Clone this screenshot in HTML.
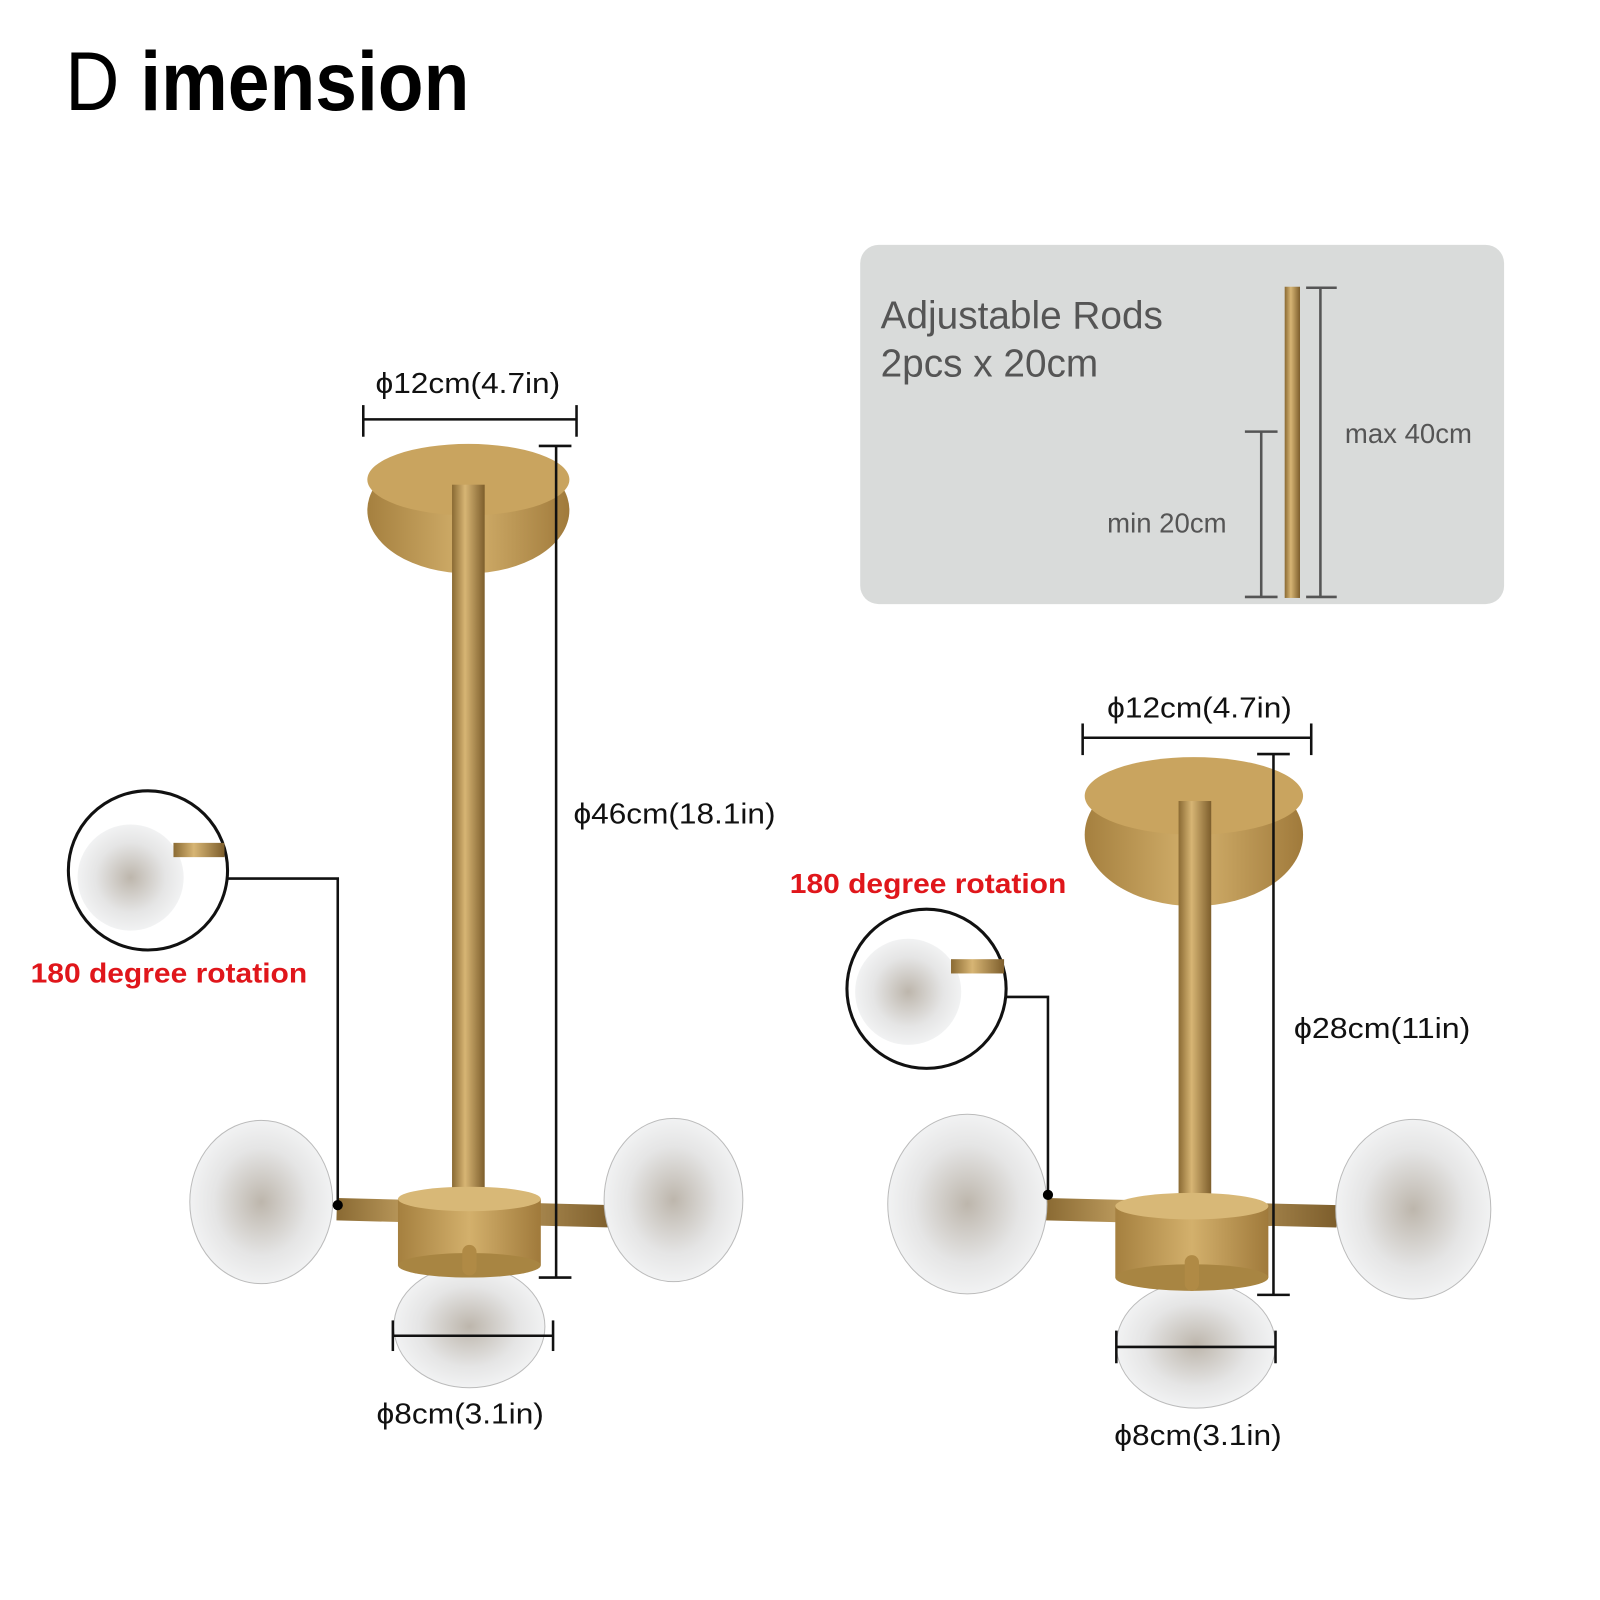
<!DOCTYPE html>
<html><head><meta charset="utf-8"><style>
html,body{margin:0;padding:0;background:#fff}
svg{display:block}
text{font-family:"Liberation Sans",sans-serif}
.lbl{font-family:"Liberation Sans",sans-serif;font-size:28px;fill:#111}
.red{font-family:"Liberation Sans",sans-serif;font-size:27px;fill:#e0161b;font-weight:bold}
</style></head><body>
<svg width="1600" height="1600" viewBox="0 0 1568 1568" xmlns="http://www.w3.org/2000/svg">
<defs>
<linearGradient id="rod" x1="0" x2="1"><stop offset="0" stop-color="#8a6a33"/><stop offset=".4" stop-color="#d7b574"/><stop offset="1" stop-color="#7d5e2c"/></linearGradient>
<linearGradient id="cap" x1="0" x2="1"><stop offset="0" stop-color="#a5803f"/><stop offset=".5" stop-color="#d3b06c"/><stop offset="1" stop-color="#a07a3b"/></linearGradient>
<radialGradient id="glass" cx=".5" cy=".5" r=".55"><stop offset="0" stop-color="#bdb6ac"/><stop offset=".6" stop-color="#e5e5e5"/><stop offset="1" stop-color="#f5f6f7"/></radialGradient>
</defs>
<rect width="1568" height="1568" fill="#fff"/>
<text x="64" y="108" font-size="82" fill="#000" textLength="396" lengthAdjust="spacingAndGlyphs">D <tspan font-weight="bold">imension</tspan></text>

<rect x="843" y="240" width="631" height="352" rx="18" fill="#d9dbda"/>
<text x="863" y="322" font-size="38" fill="#555">Adjustable Rods</text>
<text x="863" y="369" font-size="38" fill="#555">2pcs x 20cm</text>
<text x="1318" y="434" font-size="27" fill="#555">max 40cm</text>
<text x="1085" y="522" font-size="27" fill="#555">min 20cm</text>
<rect x="1259" y="281" width="15" height="305" fill="url(#rod)"/>
<g stroke="#555" stroke-width="2.5" fill="none">
<line x1="1294" y1="282" x2="1294" y2="585"/><line x1="1280" y1="282" x2="1310" y2="282"/><line x1="1280" y1="585" x2="1310" y2="585"/>
<line x1="1236" y1="423" x2="1236" y2="585"/><line x1="1220" y1="423" x2="1252" y2="423"/><line x1="1220" y1="585" x2="1252" y2="585"/>
</g>

<ellipse cx="459" cy="500" rx="99" ry="62" fill="url(#cap)"/>
<ellipse cx="459" cy="470" rx="99" ry="35" fill="#c9a45f"/>
<rect x="443" y="475" width="32" height="700" fill="url(#rod)"/>
<line x1="330" y1="1185" x2="600" y2="1192" stroke="url(#rod)" stroke-width="22"/>
<ellipse cx="256" cy="1178" rx="70" ry="80" fill="url(#glass)" stroke="#bbb"/>
<ellipse cx="660" cy="1176" rx="68" ry="80" fill="url(#glass)" stroke="#bbb"/>
<ellipse cx="460" cy="1300" rx="74" ry="60" fill="url(#glass)" stroke="#bbb"/>
<rect x="390" y="1175" width="140" height="65" fill="url(#cap)"/>
<ellipse cx="460" cy="1240" rx="70" ry="12" fill="#a88542"/>
<ellipse cx="460" cy="1175" rx="70" ry="12" fill="#d8b877"/>
<rect x="453" y="1220" width="14" height="30" rx="7" fill="#b08a45"/>
<g stroke="#111" stroke-width="2.5" fill="none">
<line x1="356" y1="411" x2="565" y2="411"/><line x1="356" y1="397" x2="356" y2="428"/><line x1="565" y1="397" x2="565" y2="428"/>
<line x1="545" y1="437" x2="545" y2="1252"/><line x1="528" y1="437" x2="560" y2="437"/><line x1="528" y1="1252" x2="560" y2="1252"/>
<line x1="385" y1="1309" x2="542" y2="1309"/><line x1="385" y1="1294" x2="385" y2="1324"/><line x1="542" y1="1294" x2="542" y2="1324"/>
<polyline points="222,861 331,861 331,1180"/>
<circle cx="145" cy="853" r="78" stroke-width="3"/>
</g>
<circle cx="331" cy="1181" r="5" fill="#000"/>
<circle cx="128" cy="860" r="52" fill="url(#glass)"/><rect x="170" y="826" width="50" height="14" fill="url(#rod)"/>
<text x="368" y="385" class="lbl" textLength="181" lengthAdjust="spacingAndGlyphs">ϕ12cm(4.7in)</text>
<text x="562" y="807" class="lbl" textLength="198" lengthAdjust="spacingAndGlyphs">ϕ46cm(18.1in)</text>
<text x="369" y="1395" class="lbl" textLength="164" lengthAdjust="spacingAndGlyphs">ϕ8cm(3.1in)</text>
<text x="30" y="963" class="red" textLength="271" lengthAdjust="spacingAndGlyphs">180 degree rotation</text>

<ellipse cx="1170" cy="818" rx="107" ry="70" fill="url(#cap)"/>
<ellipse cx="1170" cy="780" rx="107" ry="38" fill="#c9a45f"/>
<rect x="1155" y="785" width="32" height="400" fill="url(#rod)"/>
<line x1="1025" y1="1185" x2="1310" y2="1192" stroke="url(#rod)" stroke-width="22"/>
<ellipse cx="948" cy="1180" rx="78" ry="88" fill="url(#glass)" stroke="#bbb"/>
<ellipse cx="1385" cy="1185" rx="76" ry="88" fill="url(#glass)" stroke="#bbb"/>
<ellipse cx="1172" cy="1318" rx="78" ry="62" fill="url(#glass)" stroke="#bbb"/>
<rect x="1093" y="1182" width="150" height="70" fill="url(#cap)"/>
<ellipse cx="1168" cy="1252" rx="75" ry="13" fill="#a88542"/>
<ellipse cx="1168" cy="1182" rx="75" ry="13" fill="#d8b877"/>
<rect x="1161" y="1230" width="14" height="35" rx="7" fill="#b08a45"/>
<g stroke="#111" stroke-width="2.5" fill="none">
<line x1="1061" y1="723" x2="1285" y2="723"/><line x1="1061" y1="709" x2="1061" y2="740"/><line x1="1285" y1="709" x2="1285" y2="740"/>
<line x1="1248" y1="739" x2="1248" y2="1269"/><line x1="1232" y1="739" x2="1264" y2="739"/><line x1="1232" y1="1269" x2="1264" y2="1269"/>
<line x1="1094" y1="1320" x2="1250" y2="1320"/><line x1="1094" y1="1304" x2="1094" y2="1336"/><line x1="1250" y1="1304" x2="1250" y2="1336"/>
<polyline points="986,977 1027,977 1027,1170"/>
<circle cx="908" cy="969" r="78" stroke-width="3"/>
</g>
<circle cx="1027" cy="1171" r="5" fill="#000"/>
<circle cx="890" cy="972" r="52" fill="url(#glass)"/><rect x="932" y="940" width="52" height="14" fill="url(#rod)"/>
<text x="1085" y="703" class="lbl" textLength="181" lengthAdjust="spacingAndGlyphs">ϕ12cm(4.7in)</text>
<text x="1268" y="1017" class="lbl" textLength="173" lengthAdjust="spacingAndGlyphs">ϕ28cm(11in)</text>
<text x="1092" y="1416" class="lbl" textLength="164" lengthAdjust="spacingAndGlyphs">ϕ8cm(3.1in)</text>
<text x="774" y="875" class="red" textLength="271" lengthAdjust="spacingAndGlyphs">180 degree rotation</text>
</svg>
</body></html>
